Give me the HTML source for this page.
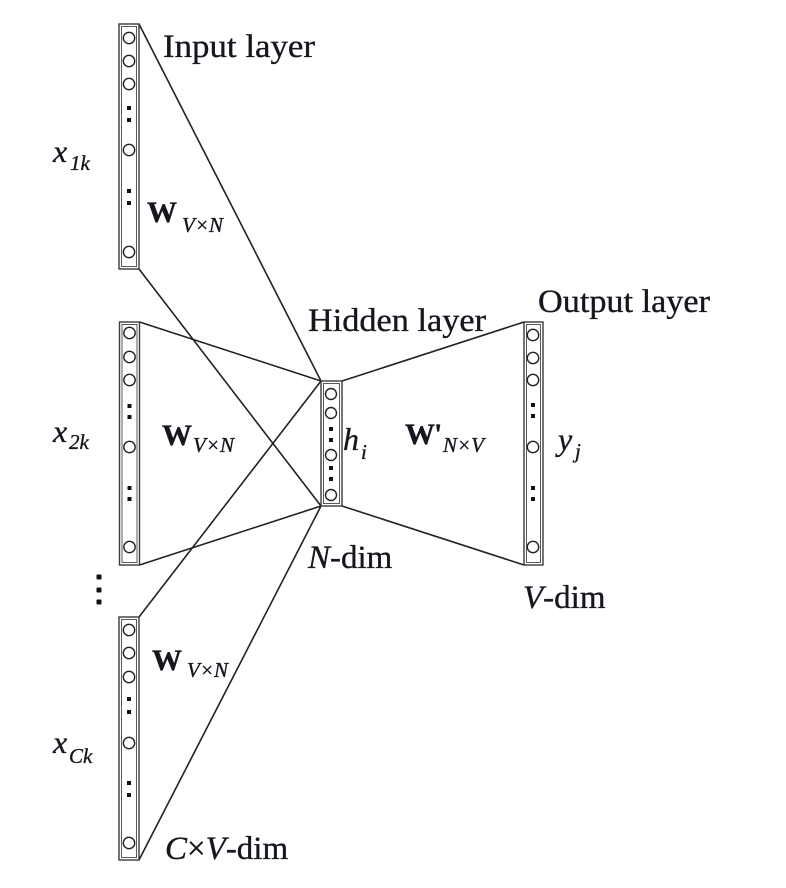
<!DOCTYPE html>
<html>
<head>
<meta charset="utf-8">
<style>
  html, body { margin: 0; padding: 0; background: #ffffff; }
  body { width: 786px; height: 888px; overflow: hidden; }
  svg { display: block; }
  text { font-family: "Liberation Serif", "DejaVu Serif", serif; fill: #16161f; stroke: #16161f; stroke-width: 0.35; }
</style>
</head>
<body>
<svg width="786" height="888" viewBox="0 0 786 888" xmlns="http://www.w3.org/2000/svg">
  <!-- connectors -->
  <g stroke="#222" stroke-width="1.6" fill="none">
    <line x1="139" y1="24" x2="321" y2="381"/>
    <line x1="139" y1="269" x2="321" y2="506"/>
    <line x1="139.5" y1="322" x2="321" y2="381"/>
    <line x1="139.5" y1="565" x2="321" y2="506"/>
    <line x1="139" y1="617" x2="321" y2="381"/>
    <line x1="139" y1="860" x2="321" y2="506"/>
    <line x1="342" y1="381" x2="524" y2="322"/>
    <line x1="342" y1="506" x2="524" y2="565"/>
  </g>

  <!-- boxes -->
  <g fill="#ffffff">
    <rect x="119" y="24" width="20" height="245" stroke="#3a3a3a" stroke-width="1.4"/>
    <rect x="121.5" y="26.5" width="15" height="240" stroke="#5a5a5a" stroke-width="1" fill="none"/>
    <rect x="119.5" y="322" width="20" height="243" stroke="#3a3a3a" stroke-width="1.4"/>
    <rect x="122" y="324.5" width="15" height="238" stroke="#5a5a5a" stroke-width="1" fill="none"/>
    <rect x="119" y="617" width="20" height="243" stroke="#3a3a3a" stroke-width="1.4"/>
    <rect x="121.5" y="619.5" width="15" height="238" stroke="#5a5a5a" stroke-width="1" fill="none"/>
    <rect x="321" y="381" width="21" height="125" stroke="#3a3a3a" stroke-width="1.4"/>
    <rect x="323.5" y="383.5" width="16" height="120" stroke="#5a5a5a" stroke-width="1" fill="none"/>
    <rect x="524" y="322" width="19" height="243" stroke="#3a3a3a" stroke-width="1.4"/>
    <rect x="526.5" y="324.5" width="14" height="238" stroke="#5a5a5a" stroke-width="1" fill="none"/>
  </g>

  <!-- circles -->
  <g fill="#ffffff" stroke="#222" stroke-width="1.4">
    <circle cx="129" cy="38" r="5.7"/>
    <circle cx="129" cy="61" r="5.7"/>
    <circle cx="129" cy="84" r="5.7"/>
    <circle cx="129" cy="150" r="5.7"/>
    <circle cx="129" cy="252" r="5.7"/>

    <circle cx="129.5" cy="333" r="5.7"/>
    <circle cx="129.5" cy="357" r="5.7"/>
    <circle cx="129.5" cy="380" r="5.7"/>
    <circle cx="129.5" cy="447" r="5.7"/>
    <circle cx="129.5" cy="547" r="5.7"/>

    <circle cx="129" cy="630" r="5.7"/>
    <circle cx="129" cy="653" r="5.7"/>
    <circle cx="129" cy="677" r="5.7"/>
    <circle cx="129" cy="743" r="5.7"/>
    <circle cx="129" cy="843" r="5.7"/>

    <circle cx="331" cy="394" r="5.5"/>
    <circle cx="331" cy="413" r="5.5"/>
    <circle cx="331" cy="455" r="5.5"/>
    <circle cx="331" cy="495" r="5.5"/>

    <circle cx="533" cy="335" r="5.7"/>
    <circle cx="533" cy="358" r="5.7"/>
    <circle cx="533" cy="380" r="5.7"/>
    <circle cx="533" cy="447" r="5.7"/>
    <circle cx="533" cy="547" r="5.7"/>
  </g>

  <!-- dots -->
  <g fill="#111">
    <rect x="127" y="106" width="4" height="4"/>
    <rect x="127" y="118" width="4" height="4"/>
    <rect x="127" y="189" width="4" height="4"/>
    <rect x="127" y="201" width="4" height="4"/>

    <rect x="127.5" y="404" width="4" height="4"/>
    <rect x="127.5" y="415" width="4" height="4"/>
    <rect x="127.5" y="486" width="4" height="4"/>
    <rect x="127.5" y="497" width="4" height="4"/>

    <rect x="127" y="697" width="4" height="4"/>
    <rect x="127" y="710" width="4" height="4"/>
    <rect x="127" y="781" width="4" height="4"/>
    <rect x="127" y="793" width="4" height="4"/>

    <rect x="329" y="427" width="4" height="4"/>
    <rect x="329" y="438" width="4" height="4"/>
    <rect x="329" y="466" width="4" height="4"/>
    <rect x="329" y="477" width="4" height="4"/>

    <rect x="531" y="403" width="4" height="4"/>
    <rect x="531" y="414" width="4" height="4"/>
    <rect x="531" y="486" width="4" height="4"/>
    <rect x="531" y="497" width="4" height="4"/>

    <rect x="96.5" y="574.5" width="5" height="5" rx="1"/>
    <rect x="96.5" y="587.5" width="5" height="5" rx="1"/>
    <rect x="96.5" y="599.5" width="5" height="5" rx="1"/>
  </g>

  <!-- layer labels -->
  <text x="163" y="57" font-size="33" textLength="152" lengthAdjust="spacingAndGlyphs">Input layer</text>
  <text x="308" y="331" font-size="33" textLength="178" lengthAdjust="spacingAndGlyphs">Hidden layer</text>
  <text x="538" y="312" font-size="33" textLength="172" lengthAdjust="spacingAndGlyphs">Output layer</text>

  <text x="308" y="568" font-size="33"><tspan font-style="italic">N</tspan>-dim</text>
  <text x="523" y="608" font-size="33"><tspan font-style="italic">V</tspan>-dim</text>
  <text x="165" y="859" font-size="33"><tspan font-style="italic">C</tspan>×<tspan font-style="italic">V</tspan>-dim</text>

  <!-- x labels -->
  <text x="53" y="162" font-size="32" font-style="italic">x</text>
  <text x="70" y="170" font-size="21" font-style="italic">1k</text>
  <text x="53" y="442" font-size="32" font-style="italic">x</text>
  <text x="69" y="449" font-size="21" font-style="italic">2k</text>
  <text x="53" y="753" font-size="32" font-style="italic">x</text>
  <text x="69" y="763" font-size="21" font-style="italic">Ck</text>

  <!-- W labels -->
  <text x="147" y="222" font-size="30" font-weight="bold">W</text>
  <text x="182" y="232" font-size="21" font-style="italic">V×N</text>
  <text x="162" y="445" font-size="30" font-weight="bold">W</text>
  <text x="193" y="452" font-size="21" font-style="italic">V×N</text>
  <text x="152" y="670" font-size="30" font-weight="bold">W</text>
  <text x="187" y="677" font-size="21" font-style="italic">V×N</text>

  <text x="405" y="444" font-size="30" font-weight="bold">W</text>
  <text x="434" y="444" font-size="30" font-weight="bold">'</text>
  <text x="443" y="452" font-size="21" font-style="italic">N×V</text>

  <!-- h_i and y_j -->
  <text x="343" y="450" font-size="32" font-style="italic">h</text>
  <text x="361" y="459" font-size="21" font-style="italic">i</text>
  <text x="558" y="450" font-size="32" font-style="italic">y</text>
  <text x="575" y="458" font-size="21" font-style="italic">j</text>
</svg>
</body>
</html>
